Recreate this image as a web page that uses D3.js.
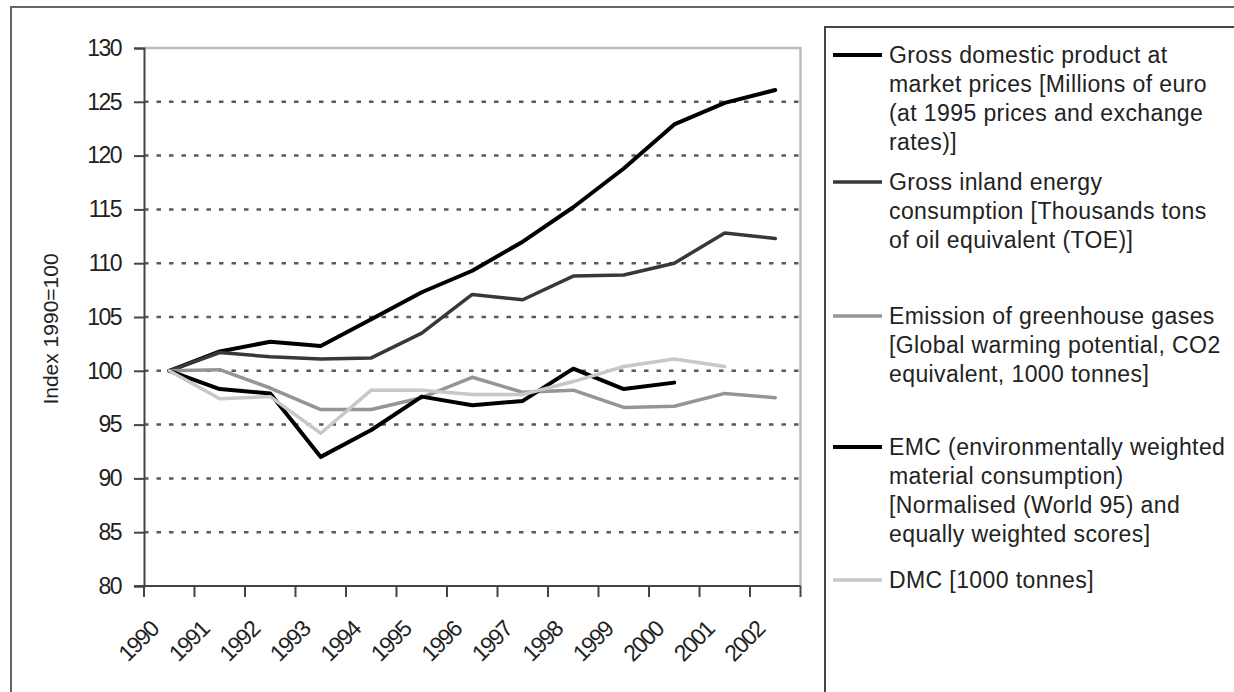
<!DOCTYPE html>
<html><head><meta charset="utf-8">
<script src="https://cdn.jsdelivr.net/npm/d3@7/dist/d3.min.js"></script>
<style>
html,body{margin:0;padding:0;background:#fff;overflow:hidden;}
svg text{font-family:"Liberation Sans",Arial,sans-serif;fill:#222;}
</style></head>
<body>
<svg id="chart" width="1234" height="692"></svg>
<script>
const years = ["1990","1991","1992","1993","1994","1995","1996","1997","1998","1999","2000","2001","2002"];
const gdp      = [100, 101.8, 102.7, 102.3, 104.8, 107.3, 109.3, 112.0, 115.2, 118.8, 122.9, 124.9, 126.1];
const energy   = [100, 101.7, 101.3, 101.1, 101.2, 103.5, 107.1, 106.6, 108.8, 108.9, 110.0, 112.8, 112.3];
const emission = [100, 100.1, 98.4, 96.4, 96.4, 97.5, 99.4, 98.0, 98.2, 96.6, 96.7, 97.9, 97.5];
const emc      = [100, 98.3, 97.9, 92.0, 94.5, 97.6, 96.8, 97.2, 100.2, 98.3, 98.9, null, null];
const dmc      = [100, 97.4, 97.6, 94.2, 98.2, 98.2, 97.8, 97.8, 99.0, 100.4, 101.1, 100.4, null];
const yTicks   = [80, 85, 90, 95, 100, 105, 110, 115, 120, 125, 130];
const yTitle   = "Index 1990=100";
const seriesNames = [
  ["Gross domestic product at","market prices [Millions of euro","(at 1995 prices and exchange","rates)]"],
  ["Gross inland energy","consumption [Thousands tons","of oil equivalent (TOE)]"],
  ["Emission of greenhouse gases","[Global warming potential, CO2","equivalent, 1000 tonnes]"],
  ["EMC (environmentally weighted","material consumption)","[Normalised (World 95) and","equally weighted scores]"],
  ["DMC [1000 tonnes]"]
];

const styles = [
  {color:"#000000", width:4},
  {color:"#383838", width:3.5},
  {color:"#959595", width:3.5},
  {color:"#000000", width:4},
  {color:"#c8c8c8", width:3.5}
];
const seriesData = [gdp, energy, emission, emc, dmc];

const svg = d3.select("#chart");
// outer frame
svg.append("rect").attr("x",11).attr("y",7).attr("width",1400).attr("height",900)
  .attr("fill","none").attr("stroke","#666").attr("stroke-width",2);

const L = 144, R = 800.5, T = 48, B = 586;
const x = d3.scaleBand().domain(years).range([L, R]).padding(0);
const y = d3.scaleLinear().domain([80,130]).range([B, T]);

// gridlines
svg.append("g").selectAll("line").data(yTicks.filter(v => v>80 && v<130)).join("line")
  .attr("x1",L).attr("x2",R).attr("y1",d=>y(d)).attr("y2",d=>y(d))
  .attr("stroke","#5a5a5a").attr("stroke-width",2.5).attr("stroke-dasharray","4.5,8");

// plot border top / right
svg.append("path").attr("d",`M${L},${y(130)}H${R}V${B}`).attr("fill","none")
  .attr("stroke","#bdbdbd").attr("stroke-width",2.5);

// y axis
const yAxis = d3.axisLeft(y).tickValues(yTicks).tickSize(10).tickPadding(13);
const gy = svg.append("g").attr("transform",`translate(${L},0)`).call(yAxis);
gy.select(".domain").attr("stroke","#444").attr("stroke-width",2);
gy.selectAll(".tick line").attr("stroke","#444").attr("stroke-width",2);
gy.selectAll(".tick text").attr("font-size",23).attr("letter-spacing","-1.5px")
  .attr("fill","#222").style("font-family","Liberation Sans, Arial, sans-serif");

// x axis
svg.append("line").attr("x1",L-10).attr("x2",R).attr("y1",B).attr("y2",B)
  .attr("stroke","#444").attr("stroke-width",2);
const tickPos = years.map(d => x(d)).concat([R]);
svg.append("g").selectAll("line").data(tickPos).join("line")
  .attr("x1",d=>d).attr("x2",d=>d).attr("y1",B).attr("y2",B+11)
  .attr("stroke","#444").attr("stroke-width",2);
svg.append("g").selectAll("text").data(years).join("text")
  .attr("transform",d=>`translate(${x(d)+x.bandwidth()/2-15},${B+39}) rotate(-45)`)
  .attr("text-anchor","end").attr("dy","0.35em")
  .attr("font-size",23).attr("letter-spacing","-1.5px")
  .text(d=>d);

// y title
svg.append("text").attr("transform","translate(51,329) rotate(-90)")
  .attr("text-anchor","middle").attr("dy","0.35em").attr("font-size",21)
  .text(yTitle);

// lines
const line = d3.line()
  .defined(d => d.v !== null)
  .x(d => x(d.year) + x.bandwidth()/2)
  .y(d => y(d.v));
seriesData.forEach((arr,i) => {
  const pts = years.map((yr,j) => ({year:yr, v:arr[j]}));
  svg.append("path").datum(pts).attr("d",line).attr("fill","none")
    .attr("stroke",styles[i].color).attr("stroke-width",styles[i].width)
    .attr("stroke-linejoin","round").attr("stroke-linecap","round");
});

// legend
svg.append("rect").attr("x",825).attr("y",27).attr("width",600).attr("height",800)
  .attr("fill","#fff").attr("stroke","#444").attr("stroke-width",2);
const legY = [55, 182, 316, 447, 580];
const lh = 29;
seriesNames.forEach((lines,i) => {
  const g = svg.append("g");
  g.append("line").attr("x1",833).attr("x2",882).attr("y1",legY[i]).attr("y2",legY[i])
    .attr("stroke",styles[i].color).attr("stroke-width",styles[i].width);
  lines.forEach((t,k) => {
    g.append("text").attr("x",889).attr("y",legY[i]+k*lh).attr("dy","0.35em")
      .attr("font-size",23).attr("letter-spacing","0.4px").text(t);
  });
});
</script>
</body></html>
